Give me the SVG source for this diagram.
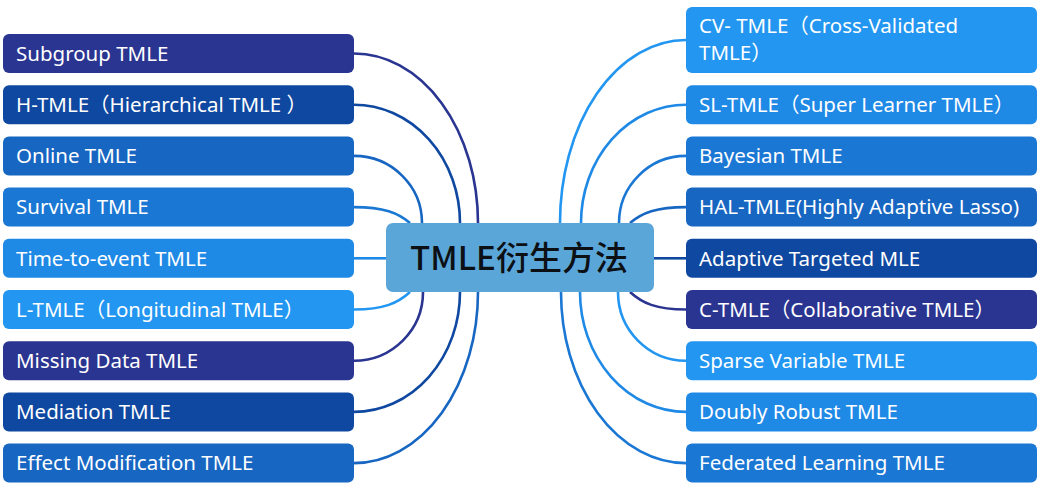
<svg xmlns="http://www.w3.org/2000/svg" width="1042" height="488" viewBox="0 0 1042 488">
<style>
.n text{font-family:"Noto Sans","Noto Sans CJK SC",sans-serif;font-size:20.5px;fill:#ffffff}
.c1{fill:#2a3591}.c2{fill:#0f48a0}.c3{fill:#1766c2}.c4{fill:#1a77d4}.c5{fill:#1f89e6}.c6{fill:#2296f0}
#connectors path{fill:none;stroke-width:2.6}
.s1{stroke:#2a3591}.s2{stroke:#0f48a0}.s3{stroke:#1766c2}.s4{stroke:#1a77d4}.s5{stroke:#1f89e6}.s6{stroke:#2296f0}
</style>
<rect width="1042" height="488" fill="#ffffff"/>
<g id="connectors">
<path class="s1" d="M354,53.5 A124,169.5 0 0 1 478,223"/>
<path class="s2" d="M354,104.7 A106,118.3 0 0 1 460,223"/>
<path class="s3" d="M354,155.9 A68,67.1 0 0 1 422,223"/>
<path class="s4" d="M354,207.1 C384,207.1 398,213 410,223"/>
<path class="s5" d="M354,258.3 L386,258.3"/>
<path class="s6" d="M354,309.5 C384,309.5 398,303 410,292"/>
<path class="s1" d="M354,360.7 A69,68.7 0 0 0 423,292"/>
<path class="s2" d="M354,411.9 A106,119.9 0 0 0 460,292"/>
<path class="s3" d="M354,463.1 A124,171.1 0 0 0 478,292"/>
<path class="s6" d="M686,40 A126,183 0 0 0 560,223"/>
<path class="s5" d="M686,104.7 A105,118.3 0 0 0 581,223"/>
<path class="s4" d="M686,155.9 A67,67.1 0 0 0 619,223"/>
<path class="s3" d="M686,207.1 C656,207.1 642,213 630,223"/>
<path class="s2" d="M654,258.3 L686,258.3"/>
<path class="s1" d="M686,309.5 C656,309.5 642,303 630,292"/>
<path class="s6" d="M686,360.7 A68,68.7 0 0 1 618,292"/>
<path class="s5" d="M686,411.9 A106,119.9 0 0 1 580,292"/>
<path class="s4" d="M686,463.1 A125,171.1 0 0 1 561,292"/>
</g>
<g id="center">
<rect x="386" y="223" width="268" height="69" rx="7" fill="#5aa6d8"/>
<text x="519" y="270" text-anchor="middle" font-family="Noto Sans CJK SC,Noto Sans,sans-serif" font-size="33" font-weight="500" fill="#0c0f14">TMLE衍生方法</text>
</g>
<g id="n-subgroup" class="n"><rect class="c1" x="3" y="34" width="351" height="39" rx="6"/><text x="16" y="60.7">Subgroup TMLE</text></g>
<g id="n-htmle" class="n"><rect class="c2" x="3" y="85.2" width="351" height="39" rx="6"/><text x="16" y="111.9">H-TMLE（Hierarchical TMLE ）</text></g>
<g id="n-online" class="n"><rect class="c3" x="3" y="136.4" width="351" height="39" rx="6"/><text x="16" y="163.1">Online TMLE</text></g>
<g id="n-survival" class="n"><rect class="c4" x="3" y="187.6" width="351" height="39" rx="6"/><text x="16" y="214.3">Survival TMLE</text></g>
<g id="n-tte" class="n"><rect class="c5" x="3" y="238.8" width="351" height="39" rx="6"/><text x="16" y="265.5">Time-to-event TMLE</text></g>
<g id="n-ltmle" class="n"><rect class="c6" x="3" y="290" width="351" height="39" rx="6"/><text x="16" y="316.7">L-TMLE（Longitudinal TMLE）</text></g>
<g id="n-missing" class="n"><rect class="c1" x="3" y="341.2" width="351" height="39" rx="6"/><text x="16" y="367.9">Missing Data TMLE</text></g>
<g id="n-mediation" class="n"><rect class="c2" x="3" y="392.4" width="351" height="39" rx="6"/><text x="16" y="419.1">Mediation TMLE</text></g>
<g id="n-effect" class="n"><rect class="c3" x="3" y="443.6" width="351" height="39" rx="6"/><text x="16" y="470.3">Effect Modification TMLE</text></g>
<g id="n-cv" class="n"><rect class="c6" x="686" y="7" width="351" height="66" rx="6"/><text x="699" y="33.3">CV- TMLE（Cross-Validated</text><text x="699" y="60">TMLE）</text></g>
<g id="n-sl" class="n"><rect class="c5" x="686" y="85.2" width="351" height="39" rx="6"/><text x="699" y="111.9">SL-TMLE（Super Learner TMLE）</text></g>
<g id="n-bayes" class="n"><rect class="c4" x="686" y="136.4" width="351" height="39" rx="6"/><text x="699" y="163.1">Bayesian TMLE</text></g>
<g id="n-hal" class="n"><rect class="c3" x="686" y="187.6" width="351" height="39" rx="6"/><text x="699" y="214.3">HAL-TMLE(Highly Adaptive Lasso)</text></g>
<g id="n-adaptive" class="n"><rect class="c2" x="686" y="238.8" width="351" height="39" rx="6"/><text x="699" y="265.5">Adaptive Targeted MLE</text></g>
<g id="n-ctmle" class="n"><rect class="c1" x="686" y="290" width="351" height="39" rx="6"/><text x="699" y="316.7">C-TMLE（Collaborative TMLE）</text></g>
<g id="n-sparse" class="n"><rect class="c6" x="686" y="341.2" width="351" height="39" rx="6"/><text x="699" y="367.9">Sparse Variable TMLE</text></g>
<g id="n-doubly" class="n"><rect class="c5" x="686" y="392.4" width="351" height="39" rx="6"/><text x="699" y="419.1">Doubly Robust TMLE</text></g>
<g id="n-federated" class="n"><rect class="c4" x="686" y="443.6" width="351" height="39" rx="6"/><text x="699" y="470.3">Federated Learning TMLE</text></g>
</svg>
